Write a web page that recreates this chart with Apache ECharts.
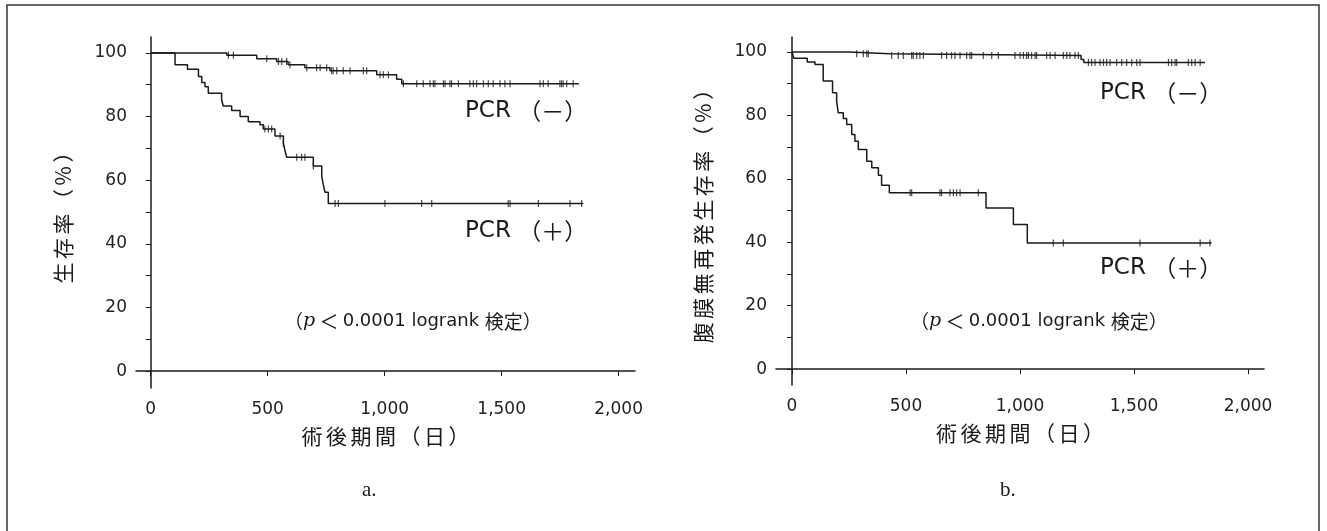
<!DOCTYPE html>
<html>
<head>
<meta charset="utf-8">
<script src="https://cdn.jsdelivr.net/npm/echarts@6/dist/echarts.min.js"></script>
<style>
  html, body { margin: 0; padding: 0; background: #fff; }
  #main { width: 1327px; height: 531px; }
</style>
</head>
<body>
<div id="main"></div>
<script>
// a. overall survival, step points (day, %)
var aNegDays = [0, 325, 453, 538, 587, 659, 766, 966, 1051, 1073, 1830];
var aNegSurv = [100, 99.3, 98.2, 97.3, 96.3, 95.3, 94.4, 93.1, 91.7, 90.3, 90.3];
var aPosDays = [0, 104, 157, 204, 218, 232, 246, 303, 310, 346, 382, 417, 467, 481, 531, 567, 574, 581, 695, 731, 738, 745, 759, 1849];
var aPosSurv = [100, 96.3, 94.9, 92.6, 90.7, 89.4, 87.3, 85.2, 83.3, 81.9, 80.0, 78.4, 77.4, 76.1, 73.9, 71.6, 69.3, 67.2, 64.5, 61.1, 58.5, 56.2, 52.7, 52.7];
// censored cases (day)
var aNegCens = [332, 353, 496, 546, 560, 581, 595, 667, 709, 724, 752, 773, 780, 795, 823, 852, 909, 923, 980, 994, 1016, 1080, 1137, 1165, 1194, 1208, 1215, 1251, 1258, 1279, 1286, 1315, 1364, 1379, 1393, 1422, 1443, 1464, 1493, 1514, 1536, 1664, 1678, 1699, 1749, 1756, 1763, 1778, 1806];
var aPosCens = [488, 503, 517, 553, 567, 624, 645, 659, 695, 788, 802, 1001, 1158, 1201, 1528, 1536, 1657, 1792, 1842];

// b. peritoneal recurrence-free survival
var bNegDays = [0, 247, 430, 1268, 1280, 1811];
var bNegSurv = [100, 99.4, 98.9, 97.6, 96.7, 96.7];
var bPosDays = [0, 8, 67, 101, 137, 178, 196, 203, 225, 240, 262, 276, 291, 328, 350, 379, 393, 427, 851, 971, 1032, 1840];
var bPosSurv = [100, 98.0, 96.8, 96.0, 90.8, 87.1, 84.4, 80.8, 79.0, 77.1, 74.0, 71.8, 69.2, 65.5, 63.5, 61.1, 58.0, 55.6, 50.8, 45.6, 39.8, 39.8];
var bNegCens = [284, 313, 328, 335, 437, 466, 488, 525, 532, 547, 561, 576, 656, 678, 700, 715, 737, 766, 781, 788, 839, 876, 905, 978, 1000, 1015, 1029, 1037, 1051, 1066, 1073, 1117, 1132, 1154, 1190, 1205, 1219, 1241, 1256, 1300, 1314, 1329, 1351, 1366, 1380, 1395, 1424, 1446, 1468, 1490, 1512, 1526, 1651, 1665, 1680, 1687, 1738, 1753, 1768, 1790];
var bPosCens = [518, 525, 649, 656, 693, 708, 722, 737, 817, 1146, 1190, 1526, 1790, 1833];

var xTicks = [0, 500, 1000, 1500, 2000];
var yTicks = [0, 10, 20, 30, 40, 50, 60, 70, 80, 90, 100];
var yLabels = [0, 20, 40, 60, 80, 100];

var ink = '#1a1a1a';
var numFont = 'DejaVu Sans';
var cjkFont = 'Noto Sans CJK JP';

function pairs(days, surv) {
    return days.map(function (d, i) { return [d, surv[i]]; });
}

function survAt(days, surv, t) {
    var s = surv[0];
    for (var i = 0; i < days.length; i++) {
        if (days[i] <= t) s = surv[i];
    }
    return s;
}

function cens(list, days, surv) {
    return list.map(function (t) { return [t, survAt(days, surv, t)]; });
}

// spread CJK characters a little, the print has wide tracking
function spaced(str) {
    return str.split('').join('\u2006');
}

function xAxisOf(grid, xmin, xmax) {
    return {
        gridIndex: grid,
        type: 'value',
        min: xmin,
        max: xmax,
        name: spaced('術後期間（日）'),
        nameLocation: 'middle',
        nameGap: 38,
        nameTextStyle: { fontFamily: cjkFont, fontSize: 21, color: ink },
        axisLine: { lineStyle: { color: ink, width: 1.5 } },
        axisTick: { customValues: xTicks, length: 5, lineStyle: { color: ink } },
        axisLabel: {
            customValues: xTicks,
            margin: 13,
            fontFamily: numFont,
            fontSize: 17,
            color: '#222',
            formatter: function (v) { return v.toLocaleString('en-US'); }
        },
        splitLine: { show: false }
    };
}

function yAxisOf(grid, ymin, ymax, name, gap) {
    return {
        gridIndex: grid,
        type: 'value',
        min: ymin,
        max: ymax,
        name: spaced(name),
        nameLocation: 'middle',
        nameGap: gap,
        nameTextStyle: { fontFamily: cjkFont, fontSize: 21, color: ink },
        axisLine: { show: true, lineStyle: { color: ink, width: 1.5 } },
        axisTick: { show: true, customValues: yTicks, length: 5, lineStyle: { color: ink } },
        axisLabel: {
            customValues: yLabels,
            margin: 9,
            fontFamily: numFont,
            fontSize: 17,
            color: '#222'
        },
        splitLine: { show: false }
    };
}

function curve(idx, data) {
    return {
        type: 'line',
        xAxisIndex: idx,
        yAxisIndex: idx,
        step: 'end',
        symbol: 'none',
        silent: true,
        lineStyle: { color: ink, width: 1.5 },
        data: data
    };
}

function marks(idx, data) {
    return {
        type: 'scatter',
        xAxisIndex: idx,
        yAxisIndex: idx,
        symbol: 'rect',
        symbolSize: [1.2, 7],
        silent: true,
        itemStyle: { color: ink },
        data: data
    };
}

function label(x, y, sign) {
    return {
        type: 'text',
        left: x,
        top: y,
        style: {
            text: '{a|PCR }{b|（' + sign + '）}',
            fill: ink,
            rich: {
                a: { fontFamily: numFont, fontSize: 23, color: ink },
                b: { fontFamily: cjkFont, fontSize: 23, color: ink }
            }
        }
    };
}

function pLabel(x, y) {
    return {
        type: 'text',
        left: x,
        top: y,
        style: {
            text: '{c|（}{i|p}{c| ＜ }{a|0.0001 logrank }{c|検定）}',
            fill: ink,
            rich: {
                a: { fontFamily: numFont, fontSize: 18, color: ink },
                i: { fontFamily: 'DejaVu Serif', fontStyle: 'italic', fontSize: 19, color: ink },
                c: { fontFamily: cjkFont, fontSize: 19, color: ink }
            }
        }
    };
}

var myChart = echarts.init(document.getElementById('main'));

var option = {
    backgroundColor: '#fff',
    animation: false,
    grid: [
        { left: 136, top: 37, width: 499, height: 351, outerBoundsMode: 'none' },
        { left: 776, top: 37, width: 488, height: 348, outerBoundsMode: 'none' }
    ],
    xAxis: [
        xAxisOf(0, -63, 2070),
        xAxisOf(1, -70, 2070)
    ],
    yAxis: [
        yAxisOf(0, -5.3, 105, '生存率（%）', 62),
        yAxisOf(1, -5, 104.7, '腹膜無再発生存率（%）', 62)
    ],
    series: [
        curve(0, pairs(aNegDays, aNegSurv)),
        curve(0, pairs(aPosDays, aPosSurv)),
        marks(0, cens(aNegCens, aNegDays, aNegSurv)),
        marks(0, cens(aPosCens, aPosDays, aPosSurv)),
        curve(1, pairs(bNegDays, bNegSurv)),
        curve(1, pairs(bPosDays, bPosSurv)),
        marks(1, cens(bNegCens, bNegDays, bNegSurv)),
        marks(1, cens(bPosCens, bPosDays, bPosSurv))
    ],
    graphic: [
        {
            type: 'rect',
            shape: { x: 7, y: 5, width: 1312, height: 600 },
            style: { fill: 'none', stroke: '#333', lineWidth: 1.5 }
        },
        label(465, 100, '－'),
        label(465, 220, '＋'),
        label(1100, 82, '－'),
        label(1100, 257, '＋'),
        pLabel(284, 312),
        pLabel(910, 312),
        {
            type: 'text', left: 362, top: 480,
            style: { text: 'a.', fontFamily: 'Liberation Serif', fontSize: 21, fill: ink }
        },
        {
            type: 'text', left: 1000, top: 480,
            style: { text: 'b.', fontFamily: 'Liberation Serif', fontSize: 21, fill: ink }
        }
    ]
};

myChart.setOption(option);
</script>
</body>
</html>
